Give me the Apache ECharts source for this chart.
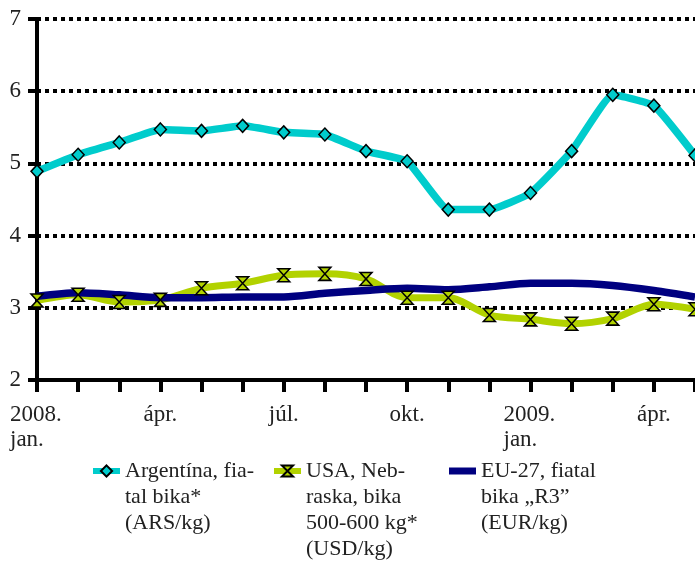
<!DOCTYPE html>
<html>
<head>
<meta charset="utf-8">
<script src="https://cdn.jsdelivr.net/npm/echarts@6/dist/echarts.min.js"></script>
<style>
  html, body { margin: 0; padding: 0; background: #fff; }
  #chart { width: 695px; height: 562px; }
</style>
</head>
<body>
<div id="chart"></div>
<script>
// hónapok (2008. jan. - 2009. máj.)
var months = ['2008. jan.', '2008. febr.', '2008. márc.', '2008. ápr.', '2008. máj.', '2008. jún.',
  '2008. júl.', '2008. aug.', '2008. szept.', '2008. okt.', '2008. nov.', '2008. dec.',
  '2009. jan.', '2009. febr.', '2009. márc.', '2009. ápr.', '2009. máj.']
var argentina = [4.89, 5.12, 5.29, 5.47, 5.45, 5.52, 5.43, 5.40, 5.17, 5.03, 4.36, 4.36, 4.59, 5.17, 5.95, 5.80, 5.11]
var usa = [3.10, 3.18, 3.08, 3.11, 3.27, 3.34, 3.45, 3.47, 3.40, 3.14, 3.14, 2.90, 2.84, 2.78, 2.85, 3.05, 2.98]
var eu = [3.16, 3.21, 3.18, 3.14, 3.14, 3.15, 3.15, 3.20, 3.24, 3.27, 3.25, 3.29, 3.34, 3.34, 3.31, 3.24, 3.15]
var seriesNames = ['Argentína', 'USA', 'EU-27']
var legendTexts = [
  'Argentína, fia-\ntal bika*\n(ARS/kg)',
  'USA, Neb-\nraska, bika\n500-600 kg*\n(USD/kg)',
  'EU-27, fiatal\nbika „R3”\n(EUR/kg)'
]

var font = 'Liberation Serif'
var textColor = '#222'
var lh = 26

var myChart = echarts.init(document.getElementById('chart'))

// a jelmagyarázat első sora legyen egy vonalban az ikonnal
function makeLegend(i, left, iconY, extra) {
  var n = legendTexts[i].split('\n').length
  var pre = ''
  for (var k = 1; k < n; k++) pre += '\n'
  var h = extra && extra.itemHeight ? extra.itemHeight : 14
  var lg = {
    left: left,
    top: iconY - (2 * n - 1) * lh / 2,
    padding: 0,
    itemWidth: 27,
    itemHeight: h,
    itemGap: 6,
    selectedMode: false,
    lineStyle: { width: 6 },
    data: [{ name: seriesNames[i], icon: extra && extra.icon }],
    formatter: function() { return pre + legendTexts[i] },
    textStyle: { fontFamily: font, fontSize: 22, lineHeight: lh, color: textColor }
  }
  return lg
}

var option = {
  animation: false,
  grid: { left: 37, top: 19, right: -6, bottom: 182, containLabel: false },
  legend: [
    makeLegend(0, 90, 471),
    makeLegend(1, 271, 471),
    makeLegend(2, 449, 471, { icon: 'rect', itemHeight: 7 })
  ],
  xAxis: {
    type: 'category',
    data: months,
    boundaryGap: false,
    axisLine: { lineStyle: { color: '#000', width: 4 } },
    axisTick: { show: true, interval: 0, length: 12, lineStyle: { color: '#000', width: 4 } },
    axisLabel: {
      interval: 2,
      margin: 22,
      fontFamily: font,
      fontSize: 23,
      lineHeight: 25,
      color: textColor,
      formatter: function(v) {
        var parts = v.split(' ')
        if (parts[1] === 'jan.') {
          return '{l|' + parts[0] + '}\n{l|' + parts[1] + '}'
        }
        return parts[1]
      },
      rich: {
        l: { width: 54, align: 'left', fontFamily: font, fontSize: 23, lineHeight: 25, color: textColor }
      }
    },
    splitLine: { show: false }
  },
  yAxis: {
    type: 'value',
    min: 2,
    max: 7,
    interval: 1,
    axisLine: { show: true, lineStyle: { color: '#000', width: 4 } },
    axisTick: { show: true, length: 9, lineStyle: { color: '#000', width: 4 } },
    axisLabel: { margin: 16, fontFamily: font, fontSize: 23, color: textColor },
    splitLine: { show: true, lineStyle: { color: '#000', width: 4, type: [4, 4] } }
  },
  series: [
    {
      name: seriesNames[0],
      type: 'line',
      data: argentina,
      smooth: 0.12,
      symbol: 'diamond',
      symbolSize: [12, 13],
      lineStyle: { color: '#00CCCC', width: 7.5 },
      itemStyle: { color: '#00CCCC', borderColor: '#000', borderWidth: 1.5 }
    },
    {
      name: seriesNames[1],
      type: 'line',
      data: usa,
      smooth: 0.3,
      symbol: 'path://M0,0 L10,0 L0,10 L10,10 Z',
      symbolSize: [12, 13],
      lineStyle: { color: '#B2D200', width: 7 },
      itemStyle: { color: '#B2D200', borderColor: '#000', borderWidth: 1.5 }
    },
    {
      name: seriesNames[2],
      type: 'line',
      data: eu,
      smooth: 0.3,
      symbol: 'none',
      lineStyle: { color: '#000080', width: 7.5 },
      itemStyle: { color: '#000080' }
    }
  ]
}
myChart.setOption(option)
window.addEventListener('resize', function() {
  myChart.resize()
})
</script>
</body>
</html>
